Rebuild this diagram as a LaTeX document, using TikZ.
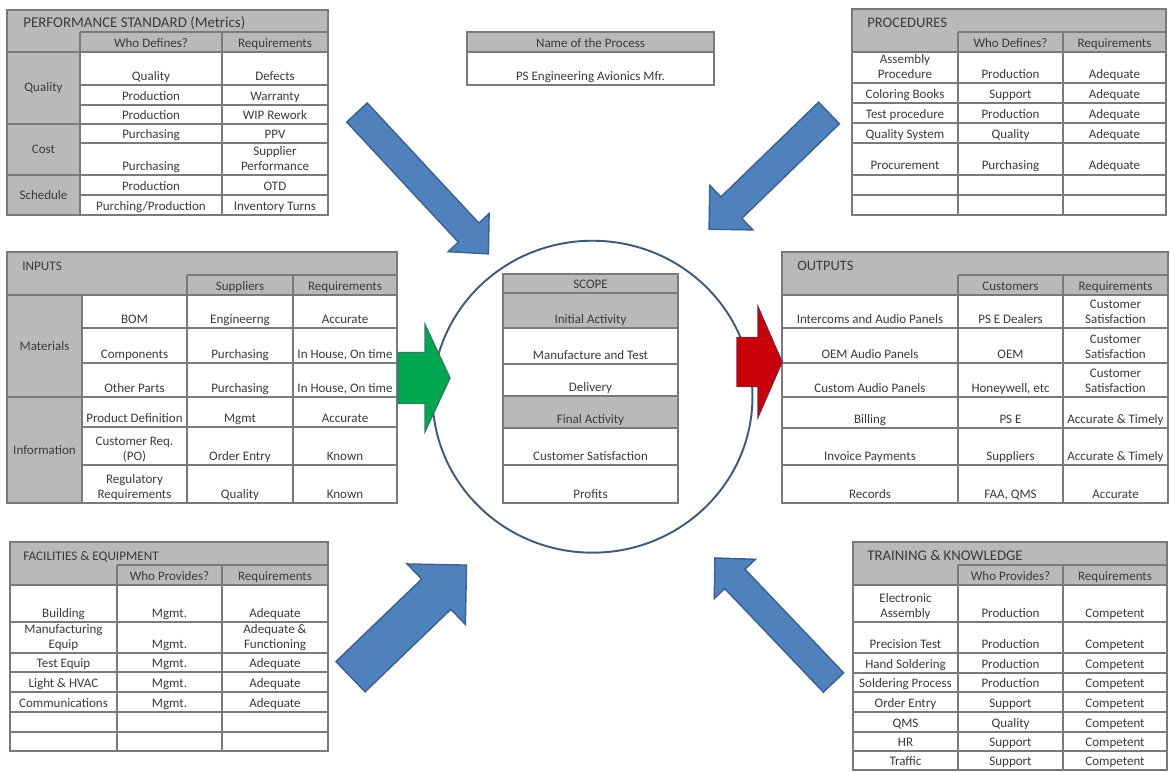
\documentclass[tikz,border=0pt]{standalone}
\usepackage{fontspec}
\setmainfont{Carlito}
\usetikzlibrary{shapes.geometric}

\definecolor{ink}{HTML}{3A3A3A}
\definecolor{rulegray}{HTML}{7A7A7A}
\definecolor{bandgray}{HTML}{B9B9B9}
\definecolor{bluefill}{HTML}{4F81BD}
\definecolor{blueedge}{HTML}{3A6090}
\definecolor{greenfill}{HTML}{00A650}
\definecolor{greenedge}{HTML}{2E7D5B}
\definecolor{redfill}{HTML}{C8000A}
\definecolor{rededge}{HTML}{8C1A30}
\definecolor{ringcol}{HTML}{3F5A78}

\newcommand\cellfont{\fontsize{7.4}{8.6}\selectfont}
\newcommand\titlefont[1]{\fontsize{#1}{9}\selectfont}
% column centres of the table being filled
\newcommand\setcols[3]{\def\cxa{#1}\def\cxb{#2}\def\cxc{#3}}
% one table row, text sitting on the bottom line of the row
\newcommand\rowthree[5]{%
  \node[cell] (#1a) at (\cxa,#2) {#3\strut};%
  \node[cell] (#1b) at (\cxb,#2) {#4\strut};%
  \node[cell] (#1c) at (\cxc,#2) {#5\strut};}
\newcommand\rowtwo[4]{%
  \node[cell] (#1b) at (\cxb,#2) {#3\strut};%
  \node[cell] (#1c) at (\cxc,#2) {#4\strut};}
% block arrow: style, tail, angle, length, shaft half width, head half width, head length
\newcommand\blockarrow[7]{%
  \begin{scope}[shift={(#2)},rotate=#3]
    \filldraw[#1] (0,-#5) -- (#4-#7,-#5) -- (#4-#7,-#6) -- (#4,0)
      -- (#4-#7,#6) -- (#4-#7,#5) -- (0,#5) -- cycle;
  \end{scope}}

\begin{document}
\begin{tikzpicture}[x=0.02cm,y=-0.02cm,
  grid/.style={draw=rulegray,line width=0.95pt},
  frame/.style={draw=rulegray,line width=1.6pt},
  cell/.style={font=\cellfont,text=ink,align=center,inner sep=0pt,anchor=south,yshift=-0.2pt},
  lab/.style={font=\cellfont,text=ink,inner sep=0pt,anchor=center},
  ttl/.style={text=ink,inner sep=0pt,anchor=base west},
  bluearrow/.style={fill=bluefill,draw=blueedge,line width=0.8pt,line join=miter},
  greenarrow/.style={fill=greenfill,draw=greenedge,line width=0.8pt},
  redarrow/.style={fill=redfill,draw=rededge,line width=0.8pt},
  ring/.style={draw=ringcol,line width=1.1pt,ellipse,inner sep=0pt}]

\useasboundingbox (0,0) rectangle (1170,771);
\fill[white] (0,0) rectangle (1170,771);

% ---------------- performance standard
\fill[bandgray] (7,10) rectangle (328,52);
\fill[bandgray] (7,52) rectangle (80,215);
\draw[grid] (80,32) -- (328,32) (80,32) -- (80,215) (222,32) -- (222,215)
  (7,52) -- (328,52) (80,85) -- (328,85) (80,105) -- (328,105) (7,124) -- (328,124)
  (80,143) -- (328,143) (7,175) -- (328,175) (80,195) -- (328,195);
\draw[frame] (7,10) rectangle (328,215);
\node[ttl,font=\titlefont{8.5}] (pfT) at (23,27) {PERFORMANCE STANDARD (Metrics)};
\setcols{43.5}{151}{275}
\rowtwo{pfH}{52}{Who Defines?}{Requirements}
\node[lab] (pfQ) at (43.5,88) {Quality};
\node[lab] (pfC) at (43.5,149.5) {Cost};
\node[lab] (pfS) at (43.5,195) {Schedule};
\rowtwo{pf1}{85}{Quality}{Defects}
\rowtwo{pf2}{105}{Production}{Warranty}
\rowtwo{pf3}{124}{Production}{WIP Rework}
\rowtwo{pf4}{143}{Purchasing}{PPV}
\rowtwo{pf5}{175}{Purchasing}{Supplier\\Performance}
\rowtwo{pf6}{195}{Production}{OTD}
\rowtwo{pf7}{215}{Purching/Production}{Inventory Turns}

% ---------------- name of the process
\fill[bandgray] (467,32) rectangle (714,52);
\draw[grid] (467,52) -- (714,52);
\draw[frame] (467,32) rectangle (714,85);
\node[cell] (nmH) at (590.5,52) {Name of the Process\strut};
\node[cell] (nmV) at (590.5,85) {PS Engineering Avionics Mfr.\strut};

% ---------------- procedures
\fill[bandgray] (852,9) rectangle (1166,52);
\draw[grid] (958,32) -- (1166,32) (958,32) -- (958,215) (1063,32) -- (1063,215)
  (852,52) -- (1166,52) (852,83) -- (1166,83) (852,103) -- (1166,103) (852,123) -- (1166,123)
  (852,143) -- (1166,143) (852,175) -- (1166,175) (852,195) -- (1166,195);
\draw[frame] (852,9) rectangle (1166,215);
\node[ttl,font=\titlefont{8.3}] (prT) at (867,27) {PROCEDURES};
\setcols{905}{1010.5}{1114.5}
\rowtwo{prH}{52}{Who Defines?}{Requirements}
\rowthree{pr1}{83}{Assembly\\Procedure}{Production}{Adequate}
\rowthree{pr2}{103}{Coloring Books}{Support}{Adequate}
\rowthree{pr3}{123}{Test procedure}{Production}{Adequate}
\rowthree{pr4}{143}{Quality System}{Quality}{Adequate}
\rowthree{pr5}{174}{Procurement}{Purchasing}{Adequate}

% ---------------- inputs
\fill[bandgray] (7,252) rectangle (397,295);
\fill[bandgray] (7,295) rectangle (82,503);
\draw[grid] (187,275) -- (397,275) (187,275) -- (187,503) (293,275) -- (293,503)
  (82,295) -- (82,503) (7,295) -- (397,295) (82,328) -- (397,328) (82,363) -- (397,363)
  (7,397) -- (397,397) (82,427) -- (397,427) (82,465) -- (397,465);
\draw[frame] (7,252) rectangle (397,503);
\node[ttl,font=\titlefont{7.5}] (inT) at (22,270) {INPUTS};
\setcols{134.5}{240}{345}
\rowtwo{inH}{295}{Suppliers}{Requirements}
\node[lab] (inM) at (44.5,346) {Materials};
\node[lab] (inI) at (44.5,450) {Information};
\rowthree{in1}{328}{BOM}{Engineerng}{Accurate}
\rowthree{in2}{363}{Components}{Purchasing}{In House, On time}
\rowthree{in3}{397}{Other Parts}{Purchasing}{In House, On time}
\rowthree{in4}{427}{Product Definition}{Mgmt}{Accurate}
\rowthree{in5}{465}{Customer Req.\\(PO)}{Order Entry}{Known}
\rowthree{in6}{503}{Regulatory\\Requirements}{Quality}{Known}

% ---------------- scope inside the process ring
\node[ring,minimum width=6.4cm,minimum height=6.24cm] (ring) at (592.5,396.7) {};
\fill[bandgray] (503,274) rectangle (678,328);
\fill[bandgray] (503,396) rectangle (678,428);
\draw[grid] (503,293) -- (678,293) (503,328) -- (678,328) (503,364) -- (678,364)
  (503,396) -- (678,396) (503,428) -- (678,428) (503,465) -- (678,465);
\draw[frame] (503,274) rectangle (678,503);
\node[cell] (sc0) at (590.5,293) {SCOPE\strut};
\node[cell] (sc1) at (590.5,328) {Initial Activity\strut};
\node[cell] (sc2) at (590.5,364) {Manufacture and Test\strut};
\node[cell] (sc3) at (590.5,396) {Delivery\strut};
\node[cell] (sc4) at (590.5,428) {Final Activity\strut};
\node[cell] (sc5) at (590.5,465) {Customer Satisfaction\strut};
\node[cell] (sc6) at (590.5,503) {Profits\strut};

% ---------------- outputs
\fill[bandgray] (782,252) rectangle (1168,295);
\draw[grid] (958,275) -- (1168,275) (958,275) -- (958,503) (1063,275) -- (1063,503)
  (782,295) -- (1168,295) (782,328) -- (1168,328) (782,363) -- (1168,363)
  (782,397) -- (1168,397) (782,428) -- (1168,428) (782,465) -- (1168,465);
\draw[frame] (782,252) rectangle (1168,503);
\node[ttl,font=\titlefont{8.2}] (ouT) at (797,270) {OUTPUTS};
\setcols{870}{1010.5}{1115.5}
\rowtwo{ouH}{295}{Customers}{Requirements}
\rowthree{ou1}{328}{Intercoms and Audio Panels}{PS E Dealers}{Customer\\Satisfaction}
\rowthree{ou2}{363}{OEM Audio Panels}{OEM}{Customer\\Satisfaction}
\rowthree{ou3}{397}{Custom Audio Panels}{Honeywell, etc}{Customer\\Satisfaction}
\rowthree{ou4}{428}{Billing}{PS E}{Accurate \& Timely}
\rowthree{ou5}{465}{Invoice Payments}{Suppliers}{Accurate \& Timely}
\rowthree{ou6}{503}{Records}{FAA, QMS}{Accurate}

% ---------------- facilities & equipment
\fill[bandgray] (10,542) rectangle (328,585);
\draw[grid] (117,565) -- (328,565) (117,565) -- (117,751) (222,565) -- (222,751)
  (10,585) -- (328,585) (10,622) -- (328,622) (10,653) -- (328,653) (10,672) -- (328,672)
  (10,692) -- (328,692) (10,712) -- (328,712) (10,732) -- (328,732);
\draw[frame] (10,542) rectangle (328,751);
\node[ttl,font=\titlefont{7.5}] (feT) at (23,560) {FACILITIES \& EQUIPMENT};
\setcols{63.5}{169.5}{275}
\rowtwo{feH}{585}{Who Provides?}{Requirements}
\rowthree{fe1}{622}{Building}{Mgmt.}{Adequate}
\rowthree{fe2}{653}{Manufacturing\\Equip}{Mgmt.}{Adequate \&\\Functioning}
\rowthree{fe3}{672}{Test Equip}{Mgmt.}{Adequate}
\rowthree{fe4}{692}{Light \& HVAC}{Mgmt.}{Adequate}
\rowthree{fe5}{712}{Communications}{Mgmt.}{Adequate}

% ---------------- training & knowledge
\fill[bandgray] (853,542) rectangle (1167,585);
\draw[grid] (958,565) -- (1167,565) (958,565) -- (958,770) (1063,565) -- (1063,770)
  (853,585) -- (1167,585) (853,622) -- (1167,622) (853,653) -- (1167,653) (853,673) -- (1167,673)
  (853,692) -- (1167,692) (853,712) -- (1167,712) (853,732) -- (1167,732) (853,751) -- (1167,751);
\draw[frame] (853,542) rectangle (1167,770);
\node[ttl,font=\titlefont{8.4}] (tkT) at (867,560) {TRAINING \& KNOWLEDGE};
\setcols{905.5}{1010.5}{1115}
\rowtwo{tkH}{585}{Who Provides?}{Requirements}
\rowthree{tk1}{622}{Electronic\\Assembly}{Production}{Competent}
\rowthree{tk2}{653}{Precision Test}{Production}{Competent}
\rowthree{tk3}{673}{Hand Soldering}{Production}{Competent}
\rowthree{tk4}{692}{Soldering Process}{Production}{Competent}
\rowthree{tk5}{712}{Order Entry}{Support}{Competent}
\rowthree{tk6}{732}{QMS}{Quality}{Competent}
\rowthree{tk7}{751}{HR}{Support}{Competent}
\rowthree{tk8}{770}{Traffic}{Support}{Competent}

% ---------------- arrows into and out of the process
\coordinate (pfTail) at (357,112.5);
\coordinate (prTail) at (829,113);
\coordinate (feTail) at (350.5,676.7);
\coordinate (tkTail) at (833.5,682.5);
\coordinate (inTail) at (398,378);
\coordinate (ouTail) at (737,362);
\blockarrow{bluearrow}{pfTail}{-47.1}{193}{14}{28}{29}
\blockarrow{bluearrow}{prTail}{-135.9}{167}{15}{31}{31}
\blockarrow{bluearrow}{feTail}{43.9}{161}{21}{42}{42}
\blockarrow{bluearrow}{tkTail}{133.6}{172}{14}{28.5}{29}
\blockarrow{greenarrow}{inTail}{0}{52}{25.5}{53.5}{25}
\blockarrow{redarrow}{ouTail}{0}{45}{24.5}{55}{24}
\end{tikzpicture}
\end{document}
